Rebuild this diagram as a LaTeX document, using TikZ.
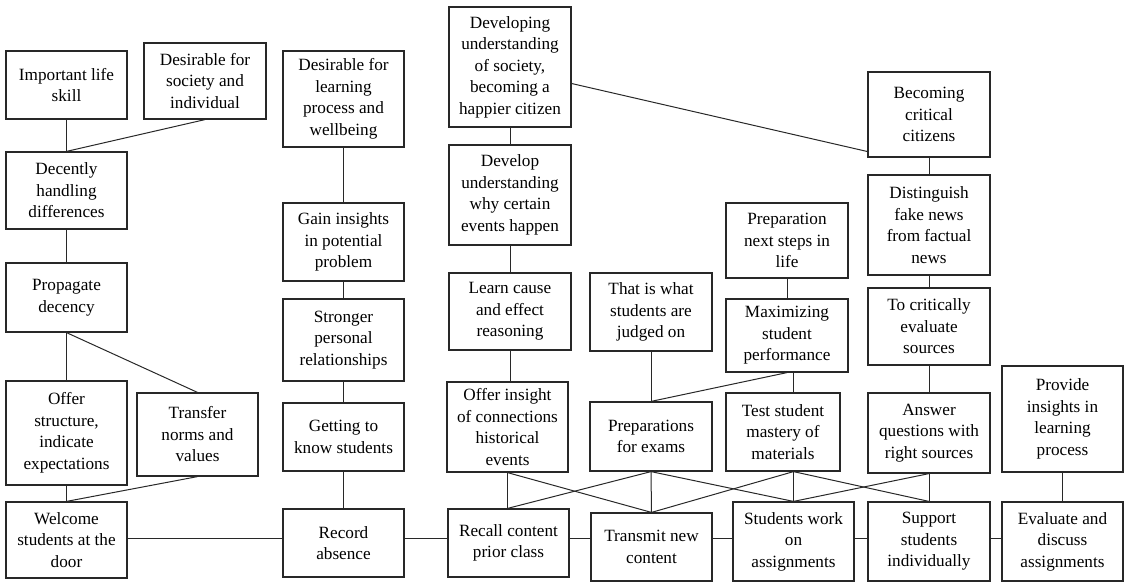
\documentclass[tikz,border=0pt]{standalone}
\usepackage{fontspec}
\setmainfont{Liberation Serif}
\definecolor{ink}{RGB}{40,40,40}
\tikzset{
  box/.style={draw=ink, line width=1.2pt, rectangle, inner sep=0pt, align=center,
    font=\fontsize{17.2}{21.5}\selectfont, text=black},
  conn/.style={draw=ink, line width=1pt}
}
\begin{document}
\begin{tikzpicture}[x=1pt,y=-1pt]
\useasboundingbox (0,0) rectangle (1127,582);
% column 1
\node[box,minimum width=121pt,minimum height=68pt] (ils) at (66.5,85) {Important life\\skill};
\node[box,minimum width=122pt,minimum height=76pt] (dsi) at (205,81) {Desirable for\\society and\\individual};
\node[box,minimum width=121pt,minimum height=77pt] (dec) at (66.5,190.5) {Decently\\handling\\differences};
\node[box,minimum width=121pt,minimum height=69pt] (pro) at (66.5,297.5) {Propagate\\decency};
\node[box,minimum width=121pt,minimum height=104pt] (ofs) at (66.5,433) {Offer\\structure,\\indicate\\expectations};
\node[box,minimum width=121pt,minimum height=83pt] (tnv) at (197.5,434.5) {Transfer\\norms and\\values};
\node[box,minimum width=121pt,minimum height=76pt] (wel) at (66.5,540) {Welcome\\students at the\\door};
% column 2
\node[box,minimum width=121pt,minimum height=96pt] (dlp) at (343.5,99) {Desirable for\\learning\\process and\\wellbeing};
\node[box,minimum width=121pt,minimum height=78pt] (gip) at (343.5,242) {Gain insights\\in potential\\problem};
\node[box,minimum width=121pt,minimum height=82pt] (spr) at (343.5,340) {Stronger\\personal\\relationships};
\node[box,minimum width=121pt,minimum height=68pt] (gtk) at (343.5,437) {Getting to\\know students};
\node[box,minimum width=121pt,minimum height=68pt] (rab) at (343.5,543) {Record\\absence};
% column 3
\node[box,minimum width=122pt,minimum height=120pt] (dus) at (510,67) {Developing\\understanding\\of society,\\becoming a\\happier citizen};
\node[box,minimum width=122pt,minimum height=100pt] (dwe) at (510,195) {Develop\\understanding\\why certain\\events happen};
\node[box,minimum width=122pt,minimum height=77pt] (lce) at (510,311.5) {Learn cause\\and effect\\reasoning};
\node[box,minimum width=121pt,minimum height=90pt] (oih) at (507.5,427) {Offer insight\\of connections\\historical\\events};
\node[box,minimum width=121pt,minimum height=68pt] (rcp) at (508.5,543) {Recall content\\prior class};
% column 4
\node[box,minimum width=122pt,minimum height=78pt] (tiw) at (651,312) {That is what\\students are\\judged on};
\node[box,minimum width=122pt,minimum height=69pt] (pfe) at (651,436.5) {Preparations\\for exams};
\node[box,minimum width=121pt,minimum height=68pt] (tnc) at (651.5,547) {Transmit new\\content};
% column 5
\node[box,minimum width=122pt,minimum height=75pt] (pns) at (787,240.5) {Preparation\\next steps in\\life};
\node[box,minimum width=122pt,minimum height=73pt] (msp) at (787,335.5) {Maximizing\\student\\performance};
\node[box,minimum width=114pt,minimum height=78pt] (tsm) at (783,432) {Test student\\mastery of\\materials};
\node[box,minimum width=121pt,minimum height=79pt] (swa) at (793.5,541.5) {Students work\\on\\assignments};
% column 6
\node[box,minimum width=122pt,minimum height=85pt] (bcc) at (929,114.5) {Becoming\\critical\\citizens};
\node[box,minimum width=122pt,minimum height=100pt] (dfn) at (929,225) {Distinguish\\fake news\\from factual\\news};
\node[box,minimum width=122pt,minimum height=77pt] (tce) at (929,326.5) {To critically\\evaluate\\sources};
\node[box,minimum width=122pt,minimum height=80pt] (aqs) at (929,433) {Answer\\questions with\\right sources};
\node[box,minimum width=122pt,minimum height=79pt] (sti) at (929,541.5) {Support\\students\\individually};
% column 7
\node[box,minimum width=121pt,minimum height=106pt] (pil) at (1062.5,419) {Provide\\insights in\\learning\\process};
\node[box,minimum width=121pt,minimum height=79pt] (eda) at (1062.5,541.5) {Evaluate and\\discuss\\assignments};
\coordinate (hl) at (0,538);
% connectors column 1
\draw[conn] (ils.south) -- (dec.north);
\draw[conn] (dsi.south) -- (dec.north);
\draw[conn] (dec.south) -- (pro.north);
\draw[conn] (pro.south) -- (ofs.north);
\draw[conn] (pro.south) -- (tnv.north);
\draw[conn] (ofs.south) -- (wel.north);
\draw[conn] (tnv.south) -- (wel.north);
% column 2
\draw[conn] (dlp.south) -- (gip.north);
\draw[conn] (gip.south) -- (spr.north);
\draw[conn] (spr.south) -- (gtk.north);
\draw[conn] (gtk.south) -- (rab.north);
% column 3
\draw[conn] (dus.south) -- (dwe.north);
\draw[conn] (dwe.south) -- (lce.north);
\draw[conn] (lce.south) -- (oih.north -| lce.south);
\draw[conn] (dus.-15.6) -- (bcc.211.6);
\draw[conn] (oih.south) -- (rcp.north -| oih.south);
\draw[conn] (oih.south) -- (tnc.north);
\draw[conn] (rcp.north -| oih.south) -- (pfe.south);
% column 4/5
\draw[conn] (tiw.south) -- (pfe.north);
\draw[conn] (pfe.south) -- (tnc.north);
\draw[conn] (pfe.south) -- (swa.north);
\draw[conn] (pns.south) -- (msp.north);
\draw[conn] (msp.south) -- (pfe.north);
\draw[conn] (msp.south -| swa.north) -- (tsm.north -| swa.north);
\draw[conn] (tsm.south -| swa.north) -- (swa.north);
\draw[conn] (tsm.south -| swa.north) -- (tnc.north);
\draw[conn] (tsm.south -| swa.north) -- (sti.north);
% column 6
\draw[conn] (bcc.south) -- (dfn.north);
\draw[conn] (dfn.south) -- (tce.north);
\draw[conn] (tce.south) -- (aqs.north);
\draw[conn] (aqs.south) -- (sti.north);
\draw[conn] (aqs.south) -- (swa.north);
\draw[conn] (pil.south) -- (eda.north);
% bottom chain
\draw[conn] (wel.east |- hl) -- (rab.west |- hl);
\draw[conn] (rab.east |- hl) -- (rcp.west |- hl);
\draw[conn] (rcp.east |- hl) -- (tnc.west |- hl);
\draw[conn] (tnc.east |- hl) -- (swa.west |- hl);
\draw[conn] (swa.east |- hl) -- (sti.west |- hl);
\draw[conn] (sti.east |- hl) -- (eda.west |- hl);
\end{tikzpicture}
\end{document}
